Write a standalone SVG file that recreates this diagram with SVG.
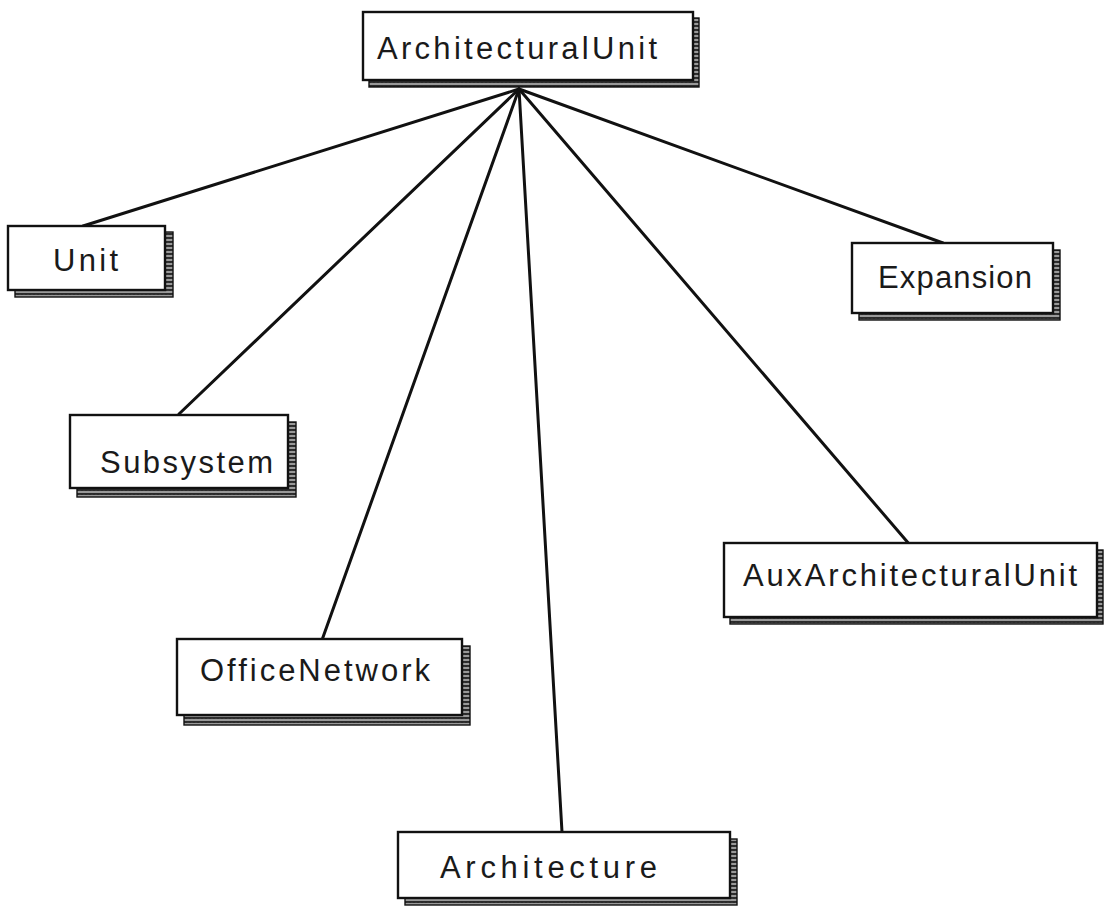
<svg xmlns="http://www.w3.org/2000/svg" width="1104" height="911" viewBox="0 0 1104 911">
<style>
.box{fill:#fff;stroke:#111;stroke-width:2.4}
.sh{fill:url(#zig);stroke:#111;stroke-width:1.4}
.lbl{font-family:"Liberation Sans",Arial,sans-serif;font-size:31px;fill:#1a1a1a;text-anchor:start}
.edge{stroke:#111;stroke-width:3;fill:none;stroke-linecap:round}
</style>
<defs>
<pattern id="zig" width="4" height="4" patternUnits="userSpaceOnUse">
<rect width="4" height="4" fill="#999"/>
<path d="M0 3 L1 1 L2 3 L3 1 L4 3" stroke="#111" stroke-width="1" fill="none"/>
</pattern>
</defs>
<rect width="1104" height="911" fill="#fff"/>
<g id="connectors">
<line class="edge" x1="519" y1="89" x2="83" y2="226"/>
<line class="edge" x1="519" y1="89" x2="179" y2="414"/>
<line class="edge" x1="519" y1="89" x2="322" y2="640"/>
<line class="edge" x1="519" y1="89" x2="562" y2="832"/>
<line class="edge" x1="519" y1="89" x2="910" y2="545"/>
<line class="edge" x1="519" y1="89" x2="943" y2="243"/>
</g>
<g id="n-architecturalunit">
<rect class="sh" x="369" y="18" width="330" height="69"/>
<rect class="box" x="363" y="12" width="330" height="68"/>
<text class="lbl" x="377" y="59" textLength="280" lengthAdjust="spacing">ArchitecturalUnit</text>
</g>
<g id="n-unit">
<rect class="sh" x="15" y="232" width="158" height="65"/>
<rect class="box" x="8" y="226" width="157" height="64"/>
<text class="lbl" x="53" y="271" textLength="65" lengthAdjust="spacing">Unit</text>
</g>
<g id="n-subsystem">
<rect class="sh" x="77" y="422" width="219" height="75"/>
<rect class="box" x="70" y="415" width="218" height="73"/>
<text class="lbl" x="100" y="473" textLength="173" lengthAdjust="spacing">Subsystem</text>
</g>
<g id="n-officenetwork">
<rect class="sh" x="184" y="646" width="286" height="79"/>
<rect class="box" x="177" y="639" width="285" height="76"/>
<text class="lbl" x="200" y="681" textLength="230" lengthAdjust="spacing">OfficeNetwork</text>
</g>
<g id="n-architecture">
<rect class="sh" x="405" y="839" width="332" height="66"/>
<rect class="box" x="398" y="832" width="332" height="66"/>
<text class="lbl" x="440" y="878" textLength="217" lengthAdjust="spacing">Architecture</text>
</g>
<g id="n-expansion">
<rect class="sh" x="859" y="250" width="201" height="70"/>
<rect class="box" x="852" y="243" width="201" height="70"/>
<text class="lbl" x="878" y="288" textLength="154" lengthAdjust="spacing">Expansion</text>
</g>
<g id="n-auxarchitecturalunit">
<rect class="sh" x="730" y="550" width="373" height="74"/>
<rect class="box" x="724" y="543" width="373" height="74"/>
<text class="lbl" x="743" y="586" textLength="334" lengthAdjust="spacing">AuxArchitecturalUnit</text>
</g>
</svg>
